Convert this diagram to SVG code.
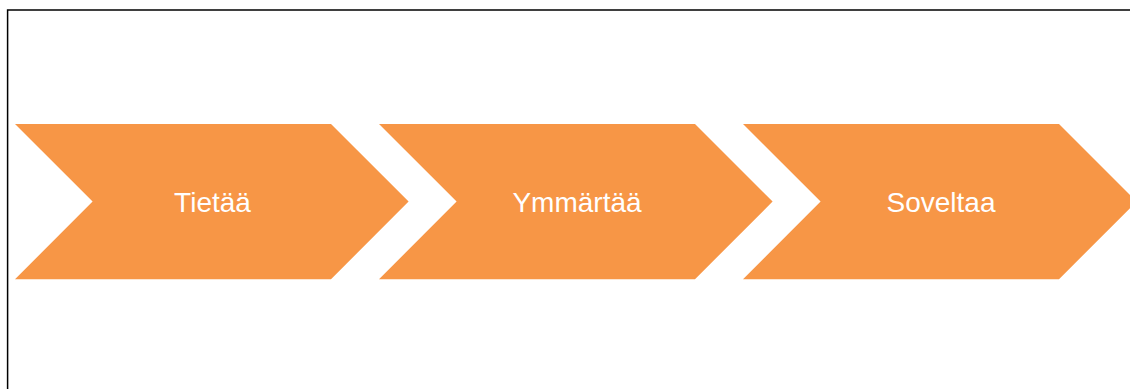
<svg xmlns="http://www.w3.org/2000/svg" width="1130" height="389" viewBox="0 0 1130 389">
  <style>
    .chev { fill: #F79646; }
    .lbl { font-family: "Liberation Sans", Arial, sans-serif; font-size: 28px; fill: #FFFFFF; text-anchor: middle; }
  </style>
  <rect x="0" y="0" width="1130" height="389" fill="#FFFFFF"/>
  <rect id="frame" x="7.6" y="10" width="1140" height="400" fill="none" stroke="#000000" stroke-width="1.5"/>
  <g id="connectors"></g>
  <g id="node-tietaa">
    <polygon class="chev" points="15,124 331,124 408.6,201.6 331,279.2 15,279.2 92.6,201.6"/>
    <text class="lbl" x="212.5" y="212">Tietää</text>
  </g>
  <g id="node-ymmartaa">
    <polygon class="chev" points="379,124 695,124 772.6,201.6 695,279.2 379,279.2 456.6,201.6"/>
    <text class="lbl" x="577" y="212">Ymmärtää</text>
  </g>
  <g id="node-soveltaa">
    <polygon class="chev" points="743,124 1059,124 1136.6,201.6 1059,279.2 743,279.2 820.6,201.6"/>
    <text class="lbl" x="941" y="212">Soveltaa</text>
  </g>
</svg>
